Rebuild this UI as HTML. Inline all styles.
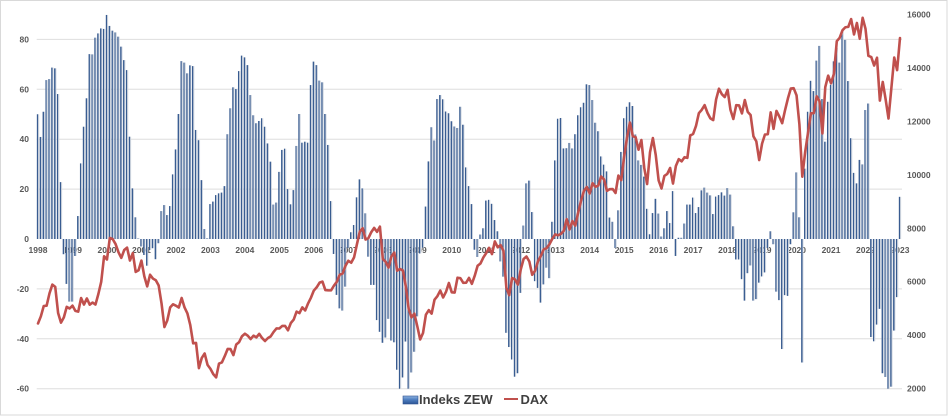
<!DOCTYPE html>
<html>
<head>
<meta charset="utf-8">
<style>
  html,body{margin:0;padding:0;background:#fff;}
  svg{display:block;}
  .ax{font-family:"Liberation Sans",Arial,sans-serif;font-size:8.5px;font-weight:bold;fill:#595959;}
  .lg{font-family:"Liberation Sans",Arial,sans-serif;font-size:13px;font-weight:bold;fill:#404040;}
</style>
</head>
<body>
<svg id="c" width="948" height="416" viewBox="0 0 948 416" xmlns="http://www.w3.org/2000/svg">
  <defs>
    <linearGradient id="bg" x1="0" y1="0" x2="1" y2="0">
      <stop offset="0" stop-color="#33578c"/>
      <stop offset="0.5" stop-color="#3d6095"/>
      <stop offset="0.56" stop-color="#c0c9d6"/>
      <stop offset="1" stop-color="#d3d9e2"/>
    </linearGradient>
    <linearGradient id="lgb" x1="0" y1="0" x2="0" y2="1">
      <stop offset="0" stop-color="#8fb2e0"/>
      <stop offset="0.45" stop-color="#4f7fc0"/>
      <stop offset="1" stop-color="#2c5596"/>
    </linearGradient>
  </defs>
  <rect x="0.5" y="0.5" width="946.5" height="414.5" fill="#fff" stroke="#d9d9d9" stroke-width="1"/>
  <g stroke="#dedede" stroke-width="1">
    <line x1="36.7" x2="902" y1="39.4" y2="39.4"/>
    <line x1="36.7" x2="902" y1="89.3" y2="89.3"/>
    <line x1="36.7" x2="902" y1="139.2" y2="139.2"/>
    <line x1="36.7" x2="902" y1="189.1" y2="189.1"/>
    <line x1="36.7" x2="902" y1="288.9" y2="288.9"/>
    <line x1="36.7" x2="902" y1="338.8" y2="338.8"/>
    <line x1="36.7" x2="902" y1="388.7" y2="388.7"/>
  </g>
  <g class="ax" text-anchor="end">
    <text x="29" y="42.4">80</text>
    <text x="29" y="92.3">60</text>
    <text x="29" y="142.2">40</text>
    <text x="29" y="192.1">20</text>
    <text x="29" y="242">0</text>
    <text x="29" y="291.9">-20</text>
    <text x="29" y="341.8">-40</text>
    <text x="29" y="391.7">-60</text>
  </g>
  <g class="ax" text-anchor="start">
    <text x="907" y="17.7">16000</text>
    <text x="907" y="71.1">14000</text>
    <text x="907" y="124.5">12000</text>
    <text x="907" y="178">10000</text>
    <text x="907" y="231.3">8000</text>
    <text x="907" y="284.7">6000</text>
    <text x="907" y="338.2">4000</text>
    <text x="907" y="391.7">2000</text>
  </g>
  <g class="ax" text-anchor="middle">
    <text x="38.0" y="253">1998</text>
    <text x="72.5" y="253">1999</text>
    <text x="106.96" y="253">2000</text>
    <text x="141.44" y="253">2001</text>
    <text x="175.92" y="253">2002</text>
    <text x="210.4" y="253">2003</text>
    <text x="244.88" y="253">2004</text>
    <text x="279.36" y="253">2005</text>
    <text x="313.84" y="253">2006</text>
    <text x="348.32" y="253">2007</text>
    <text x="382.8" y="253">2008</text>
    <text x="417.28" y="253">2009</text>
    <text x="451.76" y="253">2010</text>
    <text x="486.24" y="253">2011</text>
    <text x="520.72" y="253">2012</text>
    <text x="555.2" y="253">2013</text>
    <text x="589.68" y="253">2014</text>
    <text x="624.16" y="253">2015</text>
    <text x="658.64" y="253">2016</text>
    <text x="693.12" y="253">2017</text>
    <text x="727.6" y="253">2018</text>
    <text x="762.08" y="253">2019</text>
    <text x="796.56" y="253">2020</text>
    <text x="831.04" y="253">2021</text>
    <text x="865.52" y="253">2022</text>
    <text x="900.0" y="253">2023</text>
  </g>
  <g id="bars" fill="url(#bg)"></g>
  <path id="dax" d="" fill="none" stroke="#c0504d" stroke-width="2.6" stroke-linejoin="round" stroke-linecap="round"/>
  <rect x="403" y="396" width="15" height="8" fill="url(#lgb)" stroke="#2f528f" stroke-width="0.6"/>
  <text class="lg" x="419" y="404">Indeks ZEW</text>
  <line x1="504" x2="518" y1="399" y2="399" stroke="#c0504d" stroke-width="2"/>
  <text class="lg" x="520.5" y="404">DAX</text>
</svg>
<script>
var Z=[
50.0,40.9,51.0,63.7,64.1,68.7,68.4,58.1,22.8,-6.1,-18.0,-25.1,
-25.1,-6.8,9.2,30.3,45.0,56.4,74.1,74.0,80.7,82.4,84.4,84.2,
89.8,85.4,83.5,82.8,81.1,77.1,71.7,67.7,41.0,20.3,8.7,0.2,
-3.0,-6.4,-10.7,-4.4,-3.7,-8.1,-1.7,11.2,13.6,9.6,13.2,25.9,
35.9,50.1,71.3,70.7,66.4,69.6,69.3,43.7,39.6,23.6,4.0,0.3,
14.0,15.0,17.6,18.3,18.6,21.2,42.0,52.4,60.8,60.1,67.3,73.5,
72.8,69.7,57.7,49.6,46.4,47.3,48.4,45.0,38.3,31.0,13.8,14.6,
26.9,35.7,36.2,20.0,13.9,19.6,37.3,50.1,38.6,39.0,38.6,61.7,
71.1,69.7,63.5,62.8,50.1,37.7,15.2,-6.0,-22.4,-27.8,-28.7,-19.1,
-3.6,2.7,5.6,16.7,23.9,20.3,10.3,-7.1,-18.4,-18.4,-32.5,-37.2,
-41.6,-39.5,-32.0,-40.7,-41.4,-52.4,-63.9,-55.5,-41.1,-63.0,-53.5,-45.2,
-31.0,-5.8,-3.5,13.0,31.1,44.8,39.5,56.1,57.7,56.0,51.1,50.4,
47.2,45.1,44.5,53.0,45.8,28.7,21.2,14.0,-4.3,-7.2,1.8,4.3,
15.4,15.7,14.1,7.6,3.1,-9.0,-15.1,-37.6,-43.3,-48.3,-55.2,-53.8,
-21.6,5.4,22.3,23.4,10.8,-16.9,-19.6,-25.5,-18.2,-11.5,-15.7,6.9,
31.5,48.2,48.5,36.3,36.4,38.5,36.3,42.0,49.6,52.8,54.6,62.0,
61.7,55.7,46.6,43.2,33.1,29.8,27.1,8.6,6.9,-3.6,11.5,34.9,
48.4,53.0,54.8,53.3,41.9,31.5,29.7,25.0,12.1,1.9,10.4,16.1,
10.2,1.0,4.3,11.2,6.4,19.2,-6.8,0.5,0.5,6.2,13.8,13.8,
16.6,10.4,12.8,19.5,20.6,18.6,17.5,10.0,17.0,17.6,18.7,17.4,
20.4,17.8,5.1,-8.2,-8.2,-16.1,-24.7,-13.7,-10.6,-24.7,-24.1,-17.5,
-15.0,-13.4,-3.6,3.1,-2.1,-21.1,-24.5,-44.1,-22.5,-22.8,-2.1,10.7,
26.7,8.7,-49.5,28.2,51.0,63.4,59.3,71.5,77.4,56.1,39.0,55.0,
61.8,71.2,76.6,70.7,83.0,79.8,63.3,40.4,26.5,22.3,31.7,29.9,
51.7,54.3,-39.3,-41.0,-34.3,-28.0,-53.8,-55.3,-61.9,-59.2,-36.7,-23.3,
16.9];
var D=[
4442,4710,5096,5107,5568,5898,5810,4833,4474,4671,5064,5002,
5108,4914,4884,5393,5149,5378,5146,5226,5150,5540,6000,6958,
6835,7644,7599,7415,7109,6898,7190,7279,6798,7077,6372,6434,
6795,6208,5830,6265,6123,6058,5862,5188,4308,4559,5045,5160,
5108,5039,5397,5041,4818,4383,3700,3713,2769,3153,3320,2893,
2748,2547,2424,2942,2983,3221,3487,3485,3257,3656,3745,3965,
4058,3984,3857,3985,3921,4053,3895,3785,3893,3960,4126,4256,
4254,4350,4349,4185,4460,4587,4886,4830,5044,4930,5193,5408,
5674,5796,5970,6009,5692,5683,5681,5859,6004,6268,6309,6597,
6789,6716,6917,7409,7883,8007,7584,7638,7862,8019,7871,8067,
6851,6748,6535,6949,7096,6418,6480,6422,5831,4988,4669,4810,
4338,3844,4085,4770,4941,4809,5332,5465,5675,5415,5626,5957,
5608,5598,6154,6136,5965,5966,6148,5925,6229,6601,6688,6914,
7077,7273,7041,7514,7294,7376,7159,5785,5502,6141,6089,5898,
6458,6856,6947,6761,6264,6416,6772,6971,7216,7260,7406,7612,
7776,7742,7795,7914,8349,7959,8276,8103,8594,9033,9405,9552,
9306,9692,9556,9603,9943,9833,9407,9470,9474,9326,9980,9806,
10694,11402,11966,11454,11413,10945,11309,10259,9660,10850,11382,10743,
9798,9495,9966,10039,10263,9680,10337,10593,10511,10665,10640,11481,
11535,11834,12313,12438,12615,12325,12118,12056,12829,13230,13024,12918,
13189,12436,12097,12612,12605,12306,12806,12364,12247,11448,11257,10559,
11173,11516,11526,12344,11727,12399,12189,11939,12428,12867,13236,13249,
12981,11890,9936,10862,11587,12311,12313,12945,12761,11556,13291,13719,
13433,13786,15008,15136,15421,15531,15544,15835,15261,15689,15100,15885,
15471,14461,14415,14098,14388,12784,13484,12835,12114,13254,14397,13924,
15128];
(function(){
  var NS="http://www.w3.org/2000/svg";
  function cx(i){return 38+2.8733*i;}
  function yl(v){var y=239-v*2.495;return Math.max(14.7,Math.min(388.7,y));}
  function yr(d){return 388.7-(d-2000)*0.026714;}
  var g=document.getElementById("bars");
  for(var i=0;i<Z.length;i++){
    var a=yl(Z[i]);var t=Math.min(a,239);var h=Math.abs(a-239);
    if(h<0.6){h=0.6; if(Z[i]<0){t=239;}else{t=238.4;}}
    var r=document.createElementNS(NS,"rect");
    r.setAttribute("x",(cx(i)-1.15).toFixed(2));
    r.setAttribute("y",t.toFixed(2));
    r.setAttribute("width","2.3");
    r.setAttribute("height",h.toFixed(2));
    g.appendChild(r);
  }
  var p=[];
  for(var j=0;j<D.length;j++){p.push(cx(j).toFixed(2)+","+yr(D[j]).toFixed(2));}
  document.getElementById("dax").setAttribute("d","M"+p.join("L"));
})();
</script>
</body>
</html>
